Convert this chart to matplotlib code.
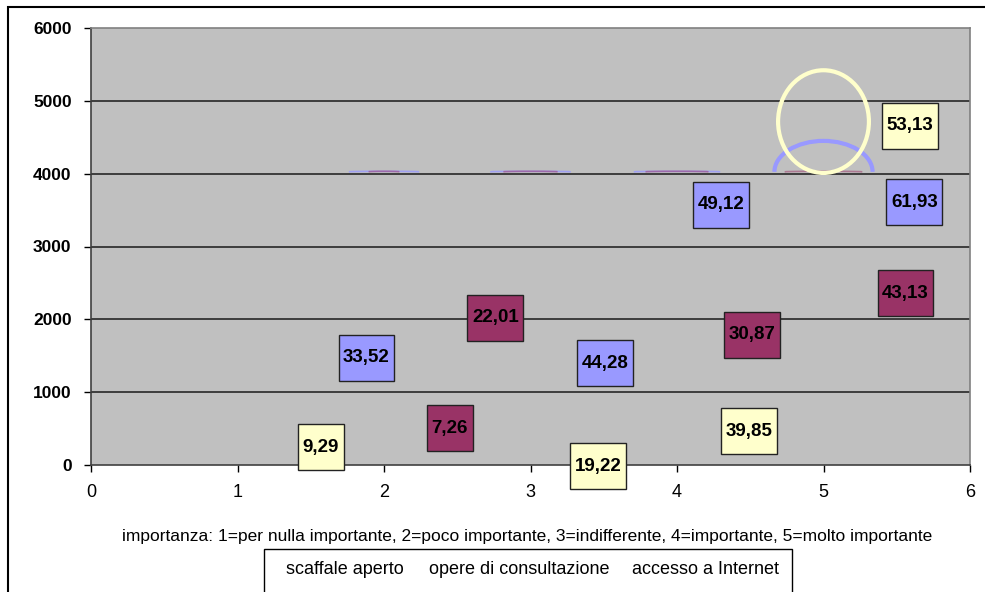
import matplotlib
matplotlib.use("Agg")
import matplotlib.pyplot as plt
from matplotlib.patches import Rectangle, Arc, Ellipse
from matplotlib import font_manager as fm

# ---------------- data ----------------
series_names = ["scaffale aperto", "opere di consultazione", "accesso a Internet"]
series_colors = ["#993366", "#9999FF", "#FFFFCC"]

# data label values (percentages) per series, text as shown
purple_labels = ["7,26", "22,01", "30,87", "43,13"]
blue_labels = ["33,52", "44,28", "49,12", "61,93"]
yellow_labels = ["9,29", "19,22", "39,85", "53,13"]

# where each data label sits (data coordinates)
purple_lx = [2.45, 2.76, 4.51, 5.56]
purple_ly = [505, 2020, 1790, 2360]
blue_lx = [1.88, 3.51, 4.30, 5.62]
blue_ly = [1470, 1395, 3570, 3610]
yellow_lx = [1.57, 3.46, 4.49, 5.59]
yellow_ly = [245, -15, 465, 4660]

# bubbles (x, y, width in x-units, height in y-units)
bubble_x = [2, 3, 4, 5]
bubble_y = [4000, 4000, 4000, 4000]
purple_bw = [0.21, 0.37, 0.43, 0.53]
purple_bh = [15, 15, 15, 15]
blue_bw = [0.48, 0.55, 0.59, 0.67]
blue_bh = [15, 15, 15, 850]
yellow_center = (5.0, 4715)
yellow_size = (0.62, 1410)

x_ticks = [0, 1, 2, 3, 4, 5, 6]
y_ticks = [0, 1000, 2000, 3000, 4000, 5000, 6000]
x_title = ("importanza: 1=per nulla importante, 2=poco importante, "
           "3=indifferente, 4=importante, 5=molto importante")

# ---------------- fonts ----------------
avail = {f.name for f in fm.fontManager.ttflist}
narrow = "Liberation Sans Narrow" if "Liberation Sans Narrow" in avail else "Liberation Sans"
base = "Liberation Sans"
plt.rcParams["font.family"] = [base, "DejaVu Sans"]

W, H = 985, 592
fig = plt.figure(figsize=(W / 100, H / 100), dpi=100)
fig.patch.set_facecolor("white")

L, R, T, B = 91, 970, 28, 465
ax = fig.add_axes([L / W, 1 - B / H, (R - L) / W, (B - T) / H])
ax.set_facecolor("#C0C0C0")
ax.set_xlim(0, 6)
ax.set_ylim(0, 6000)
ax.set_xticks(x_ticks)
ax.set_yticks(y_ticks)
ax.set_yticklabels([str(v) for v in y_ticks], fontweight="bold", fontsize=12.5, family=[base])
ax.set_xticklabels([str(v) for v in x_ticks], fontsize=13, family=[narrow])
ax.tick_params(axis="both", direction="out", length=5, color="black", width=1)
ax.tick_params(axis="y", pad=9)
ax.tick_params(axis="x", pad=9)
for yv in y_ticks[1:-1]:
    ax.axhline(yv, color="#333333", lw=1.3, zorder=1)
ax.spines["left"].set_color("#404040")
ax.spines["bottom"].set_color("#404040")
ax.spines["top"].set_color("#808080")
ax.spines["right"].set_color("#808080")
for s in ax.spines.values():
    s.set_linewidth(1.2)

# bubbles
for i, bx in enumerate(bubble_x):
    by = bubble_y[i]
    lw_b = 3 if blue_bh[i] > 100 else 1.2
    ax.add_patch(Arc((bx, by + 25), blue_bw[i], blue_bh[i], theta1=0, theta2=180,
                     color=series_colors[1], lw=lw_b, alpha=0.8 if lw_b < 2 else 1, zorder=2))
    ax.add_patch(Arc((bx, by + 25), purple_bw[i], purple_bh[i], theta1=0, theta2=180,
                     color=series_colors[0], lw=1.2, alpha=0.5, zorder=2))
ax.add_patch(Ellipse(yellow_center, yellow_size[0], yellow_size[1], fill=False,
                     edgecolor=series_colors[2], lw=3, zorder=3))

# data labels with boxes
texts = []
for labels, lx, ly, col in [(purple_labels, purple_lx, purple_ly, series_colors[0]),
                            (blue_labels, blue_lx, blue_ly, series_colors[1]),
                            (yellow_labels, yellow_lx, yellow_ly, series_colors[2])]:
    for lab, x, y in zip(labels, lx, ly):
        t = ax.text(x, y, lab, ha="center", va="center", fontsize=13.5,
                    fontweight="bold", color="black", zorder=6, clip_on=False)
        texts.append((t, col))

fig.canvas.draw()
rend = fig.canvas.get_renderer()
inv = ax.transData.inverted()
for t, col in texts:
    bb = t.get_window_extent(rend)
    cx = (bb.x0 + bb.x1) / 2
    cy = (bb.y0 + bb.y1) / 2
    w = bb.width + 9
    h = 46
    (x0, y0) = inv.transform((cx - w / 2, cy - h / 2))
    (x1, y1) = inv.transform((cx + w / 2, cy + h / 2))
    ax.add_patch(Rectangle((x0, y0), x1 - x0, y1 - y0, facecolor=col,
                           edgecolor="#222222", lw=1.0, zorder=5, clip_on=False))

# axis title
fig.text(527 / W, 1 - 536 / H, x_title, ha="center", va="center", fontsize=12.5,
         family=[narrow])

# legend (text only, markers too small to see)
fig.patches.append(Rectangle((264 / W, 1 - 600 / H), (792 - 264) / W, (600 - 549) / H,
                             transform=fig.transFigure, fill=False, edgecolor="black",
                             lw=1.0))
leg_x = [345, 519, 706]
for name, lx in zip(series_names, leg_x):
    fig.text(lx / W, 1 - 569 / H, name, ha="center", va="center", fontsize=13,
             family=[narrow])

# outer chart border
fig.patches.append(Rectangle((8 / W, 1 - 700 / H), (1100 - 8) / W, (700 - 7) / H,
                             transform=fig.transFigure, fill=False, edgecolor="black",
                             lw=1.5))

fig.savefig("out.png", dpi=100)
